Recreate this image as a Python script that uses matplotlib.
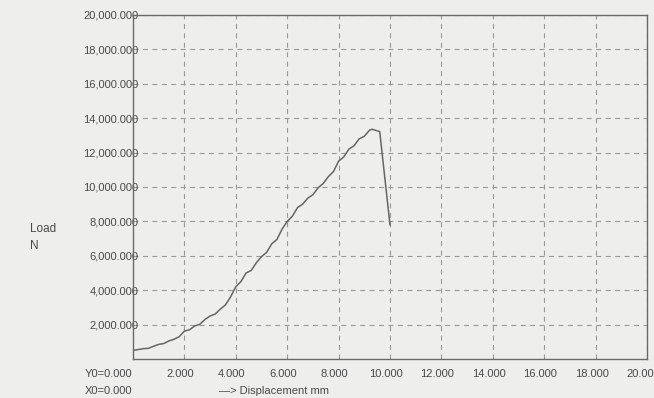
import matplotlib
matplotlib.use("Agg")
import matplotlib.pyplot as plt
from matplotlib.ticker import FixedLocator, FuncFormatter
from matplotlib.transforms import ScaledTranslation

# Data (displacement in mm, load in N as printed)
displacement = [0.0, 0.2, 0.4, 0.6, 0.8, 1.0, 1.2, 1.4, 1.6, 1.8, 2.0, 2.2, 2.4, 2.6, 2.8,
                3.0, 3.2, 3.4, 3.6, 3.8, 4.0, 4.2, 4.4, 4.6, 4.8, 5.0, 5.2, 5.4, 5.6, 5.8,
                6.0, 6.2, 6.4, 6.6, 6.8, 7.0, 7.2, 7.4, 7.6, 7.8, 8.0, 8.2, 8.4, 8.6, 8.8,
                9.0, 9.2, 9.3, 9.6, 10.0]
load = [500, 550, 600, 620, 740, 850, 900, 1050, 1150, 1300, 1620, 1700, 1920, 2020, 2300,
        2500, 2620, 2900, 3150, 3620, 4200, 4500, 5000, 5150, 5600, 5950, 6200, 6700, 6950, 7550,
        8000, 8300, 8800, 9000, 9350, 9550, 9950, 10200, 10600, 10900, 11500, 11750, 12200, 12400, 12800,
        12950, 13300, 13360, 13220, 7800]

x_ticks = [2, 4, 6, 8, 10, 12, 14, 16, 18, 20]
y_ticks = [2000, 4000, 6000, 8000, 10000, 12000, 14000, 16000, 18000, 20000]

bg = "#eeeeec"
txt = "#4a4a4a"
font = "Liberation Sans"

fig = plt.figure(figsize=(6.54, 3.98), dpi=100, facecolor=bg)
ax = fig.add_axes([133 / 654, 1 - 359 / 398, (647 - 133) / 654, (359 - 15) / 398])
ax.set_facecolor(bg)

ax.plot(displacement, load, color="#666666", lw=1.1)

ax.set_xlim(0, 20)
ax.set_ylim(0, 20000)
ax.xaxis.set_major_locator(FixedLocator(x_ticks))
ax.yaxis.set_major_locator(FixedLocator(y_ticks))
ax.xaxis.set_major_formatter(FuncFormatter(lambda v, p: f"{v:.3f}"))
ax.yaxis.set_major_formatter(FuncFormatter(lambda v, p: f"{v:,.3f}"))
ax.tick_params(length=0, colors=txt, labelsize=8)
ax.tick_params(axis="y", pad=-4)
ax.tick_params(axis="x", pad=7)
shift = ScaledTranslation(-4 / 100, 0, fig.dpi_scale_trans)
for lab in ax.get_xticklabels():
    lab.set_fontfamily(font)
    lab.set_transform(lab.get_transform() + shift)
for lab in ax.get_yticklabels():
    lab.set_fontfamily(font)

ax.grid(True, color="#999999", linestyle=(0, (4.5, 4)), lw=0.8)
for s in ax.spines.values():
    s.set_color("#6a6a6a")
    s.set_linewidth(1.0)

fig.text(30 / 654, 1 - 229 / 398, "Load", fontsize=8.5, color=txt, family=font, va="center")
fig.text(30 / 654, 1 - 246 / 398, "N", fontsize=8.5, color=txt, family=font, va="center")
fig.text(85 / 654, 1 - 374 / 398, "Y0=0.000", fontsize=8, color=txt, family=font, va="center")
fig.text(85 / 654, 1 - 391 / 398, "X0=0.000", fontsize=8, color=txt, family=font, va="center")
fig.text(219 / 654, 1 - 391 / 398, "\u2014> Displacement mm", fontsize=8, color=txt, family=font, va="center")

fig.savefig("out.png", dpi=100, facecolor=bg)
